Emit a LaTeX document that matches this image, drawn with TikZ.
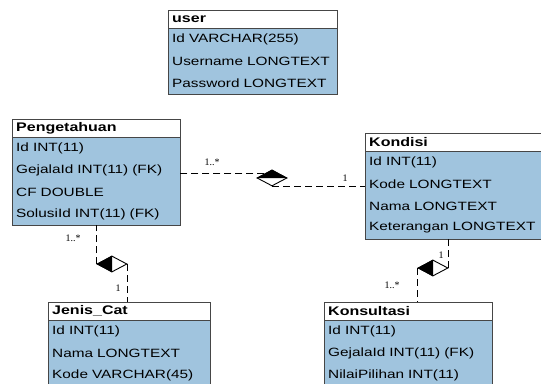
\documentclass[tikz,border=0pt]{standalone}
\usepackage{fontspec}
\setmainfont{Liberation Sans}[FakeStretch=1.28]
\newfontfamily\multfont{Liberation Serif}
\usetikzlibrary{shapes.geometric,backgrounds}
\definecolor{rowblue}{RGB}{160,196,222}
\definecolor{boxline}{RGB}{70,70,70}
\tikzset{
  hdr/.style={draw=boxline,fill=white,anchor=north west,minimum height=18,
    inner xsep=4,inner ysep=0,align=left,font=\bfseries\fontsize{12.5}{13}\selectfont},
  row/.style={anchor=north west,minimum height=21.5,
    inner xsep=4,inner ysep=0,align=left,font=\fontsize{12}{13}\selectfont},
  rel/.style={dash pattern=on 7pt off 4pt,line width=0.9pt},
  comp/.style={diamond,draw,line width=0.9pt,fill=white,inner sep=0,
    minimum width=30,minimum height=16},
  mult/.style={inner sep=1,font=\multfont\fontsize{10}{11}\selectfont}
}
\begin{document}
\begin{tikzpicture}[x=1pt,y=-1pt]
\useasboundingbox (0,0) rectangle (541,383);
% tables
\node[hdr,text width=161] (usr0) at (168,10) {user};
\foreach \t [count=\i, remember=\i as \j (initially 0)] in
  {Id VARCHAR(255), Username LONGTEXT, Password LONGTEXT}
  \node[row,text width=161] (usr\i) at (usr\j.south west) {\t};

\node[hdr,text width=160] (peng0) at (12,119) {Pengetahuan};
\foreach \t [count=\i, remember=\i as \j (initially 0)] in
  {Id INT(11), GejalaId INT(11) (FK), CF DOUBLE, SolusiId INT(11) (FK)}
  \node[row,text width=160] (peng\i) at (peng\j.south west) {\t};

\node[hdr,text width=177] (kond0) at (365,133) {Kondisi};
\foreach \t [count=\i, remember=\i as \j (initially 0)] in
  {Id INT(11), Kode LONGTEXT, Nama LONGTEXT, Keterangan LONGTEXT}
  \node[row,text width=177] (kond\i) at (kond\j.south west) {\t};

\node[hdr,text width=154] (jenis0) at (48,302) {Jenis\_Cat};
\foreach \t [count=\i, remember=\i as \j (initially 0)] in
  {Id INT(11), Nama LONGTEXT, Kode VARCHAR(45)}
  \node[row,text width=154] (jenis\i) at (jenis\j.south west) {\t};

\node[hdr,text width=160] (kons0) at (324,302) {Konsultasi};
\foreach \t [count=\i, remember=\i as \j (initially 0)] in
  {Id INT(11), GejalaId INT(11) (FK), NilaiPilihan INT(11)}
  \node[row,text width=160] (kons\i) at (kons\j.south west) {\t};

\begin{scope}[on background layer]
\fill[white] (0,0) rectangle (541,383);
\fill[rowblue] (usr0.south west) rectangle (usr3.south east);
\fill[rowblue] (peng0.south west) rectangle (peng4.south east);
\fill[rowblue] (kond0.south west) rectangle (kond4.south east);
\fill[rowblue] (jenis0.south west) rectangle (jenis3.south east);
\fill[rowblue] (kons0.south west) rectangle (kons3.south east);
\end{scope}
\draw[boxline] (usr0.north west) rectangle (usr3.south east);
\draw[boxline] (peng0.north west) rectangle (peng4.south east);
\draw[boxline] (kond0.north west) rectangle (kond4.south east);
\draw[boxline] (jenis0.north west) rectangle (jenis3.south east);
\draw[boxline] (kons0.north west) rectangle (kons3.south east);

% compositions
\node[comp] (dp) at (272,178) {};
\node[comp] (dj) at (112,264) {};
\node[comp] (dk) at (433,268) {};
\fill (dp.west) -- (dp.north) -- (dp.east) -- cycle;
\fill (dj.north) -- (dj.west) -- (dj.south) -- cycle;
\fill (dk.north) -- (dk.west) -- (dk.south) -- cycle;

\draw[rel] (dp.north west) -- (dp.north west -| peng0.east);
\draw[rel] (dp.south) -- (dp.south -| kond0.west);
\draw[rel] (dj.west) -- (dj.west |- peng4.south);
\draw[rel] (dj.east) -- (dj.east |- jenis0.north);
\draw[rel] (dk.east) -- (dk.east |- kond4.south);
\draw[rel] (dk.west) -- (dk.west |- kons0.north);

\node[mult] (m1) at (212,162) {1..*};
\node[mult] (m2) at (345,178) {1};
\node[mult] (m3) at (73,238) {1..*};
\node[mult] (m4) at (118,288) {1};
\node[mult] (m5) at (441,255) {1};
\node[mult] (m6) at (392,285) {1..*};
\end{tikzpicture}
\end{document}
